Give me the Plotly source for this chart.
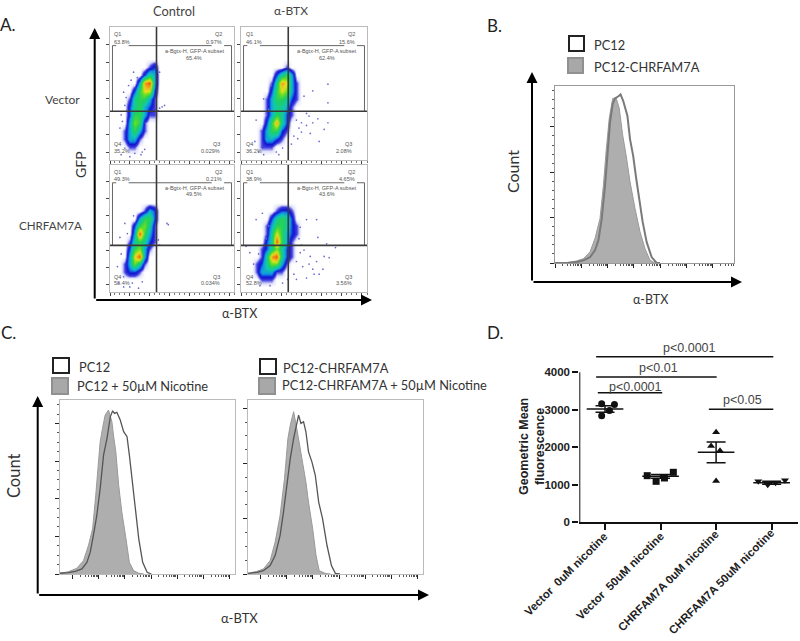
import numpy as np
import plotly.graph_objects as go

W, H = 800, 641
FONT = "Lato, 'Open Sans', sans-serif"
ARIAL = "Liberation Sans, Arial, sans-serif"

# --- panel A: density (0 empty .. 10 red) ---
grid_x = [8, 12, 16, 20, 24, 28, 32, 36, 40, 44, 48, 52]
grid_y = [4, 10, 16, 22, 28, 34, 40, 46, 52, 58, 64, 70, 76]

a1_z = [
    [0, 0, 0, 0, 0, 0, 0, 0, 0, 0, 0, 0],
    [0, 0, 1, 1, 0, 0, 0, 0, 0, 0, 0, 0],
    [0, 1, 3, 3, 1, 0, 0, 0, 0, 0, 0, 0],
    [0, 1, 3, 5, 3, 1, 0, 0, 0, 0, 0, 0],
    [0, 0, 3, 6, 5, 1, 0, 0, 0, 0, 0, 0],
    [0, 0, 2, 5, 5, 3, 1, 1, 0, 0, 0, 0],
    [0, 0, 2, 4, 5, 3, 2, 1, 0, 0, 0, 0],
    [0, 0, 1, 4, 5, 5, 3, 1, 0, 0, 0, 0],
    [0, 0, 0, 2, 5, 7, 7, 2, 0, 0, 0, 0],
    [0, 0, 0, 0, 3, 8, 9, 3, 0, 0, 0, 0],
    [0, 0, 0, 0, 0, 2, 4, 3, 0, 0, 0, 0],
    [0, 0, 0, 0, 0, 0, 1, 2, 0, 0, 0, 0],
    [0, 0, 0, 0, 0, 0, 0, 0, 0, 0, 0, 0],
]
a2_z = [
    [0, 0, 0, 0, 0, 0, 0, 0, 0, 0, 0, 0],
    [0, 0, 1, 1, 1, 0, 0, 0, 0, 0, 0, 0],
    [0, 0, 1, 3, 3, 2, 1, 0, 0, 0, 0, 0],
    [0, 0, 1, 3, 5, 5, 2, 1, 0, 0, 0, 0],
    [0, 0, 0, 2, 5, 8, 4, 2, 0, 0, 0, 0],
    [0, 0, 0, 1, 3, 5, 4, 2, 1, 0, 0, 0],
    [0, 0, 0, 1, 3, 4, 4, 3, 1, 0, 0, 0],
    [0, 0, 0, 1, 3, 5, 5, 4, 2, 1, 0, 0],
    [0, 0, 0, 0, 2, 5, 7, 6, 3, 1, 0, 0],
    [0, 0, 0, 0, 1, 4, 8, 7, 3, 1, 0, 0],
    [0, 0, 0, 0, 0, 2, 4, 5, 3, 0, 0, 0],
    [0, 0, 0, 0, 0, 0, 0, 1, 0, 0, 0, 0],
    [0, 0, 0, 0, 0, 0, 0, 0, 0, 0, 0, 0],
]
a3_z = [
    [0, 0, 0, 0, 0, 0, 0, 0, 0, 0, 0, 0],
    [0, 0, 0, 0, 0, 0, 0, 0, 0, 0, 0, 0],
    [0, 1, 2, 2, 1, 0, 0, 0, 0, 0, 0, 0],
    [0, 1, 3, 6, 4, 1, 0, 0, 0, 0, 0, 0],
    [0, 0, 3, 7, 9, 3, 0, 0, 0, 0, 0, 0],
    [0, 0, 2, 5, 6, 3, 1, 0, 0, 0, 0, 0],
    [0, 0, 1, 4, 5, 4, 2, 1, 0, 0, 0, 0],
    [0, 0, 0, 3, 9, 5, 3, 1, 0, 0, 0, 0],
    [0, 0, 0, 2, 5, 6, 4, 1, 0, 0, 0, 0],
    [0, 0, 0, 0, 3, 5, 5, 2, 0, 0, 0, 0],
    [0, 0, 0, 0, 0, 1, 3, 2, 0, 0, 0, 0],
    [0, 0, 0, 0, 0, 0, 0, 0, 0, 0, 0, 0],
    [0, 0, 0, 0, 0, 0, 0, 0, 0, 0, 0, 0],
]
a4_z = [
    [0, 0, 0, 0, 0, 0, 0, 0, 0, 0, 0, 0],
    [0, 0, 1, 1, 1, 0, 0, 0, 0, 0, 0, 0],
    [0, 1, 3, 3, 3, 1, 1, 0, 0, 0, 0, 0],
    [0, 1, 2, 4, 6, 6, 3, 1, 0, 0, 0, 0],
    [0, 0, 1, 4, 8, 9, 4, 2, 1, 0, 0, 0],
    [0, 0, 1, 2, 4, 6, 4, 2, 1, 0, 0, 0],
    [0, 0, 0, 2, 4, 9, 5, 3, 1, 0, 0, 0],
    [0, 0, 0, 1, 4, 7, 5, 3, 2, 1, 0, 0],
    [0, 0, 0, 1, 3, 5, 5, 4, 2, 1, 0, 0],
    [0, 0, 0, 0, 2, 4, 5, 4, 2, 0, 0, 0],
    [0, 0, 0, 0, 0, 1, 2, 2, 1, 0, 0, 0],
    [0, 0, 0, 0, 0, 0, 0, 0, 0, 0, 0, 0],
    [0, 0, 0, 0, 0, 0, 0, 0, 0, 0, 0, 0],
]

# stray events outside the dense cloud
a1_out_x = [9, 20, 16, 25, 11, 12, 15, 8, 9, 40, 42, 39, 40, 13, 17, 10, 22, 19, 14, 26, 44, 28, 12]
a1_out_y = [4, 5, 2.5, 4, 51, 41, 56, 24, 34, 39, 40, 37, 66, 47, 60, 29, 62, 66, 38, 6, 41, 8, 9]
a2_out_x = [48, 52, 57, 61, 48, 45, 66, 69, 57, 69, 69, 55, 14, 18, 12, 52, 30, 62, 22, 18, 24, 50, 44, 46, 54,
            40, 42, 16, 20, 33, 28, 11]
a2_out_y = [28, 26, 28, 31, 21, 16, 23, 28, 52, 57, 43, 20, 6, 4, 30, 35, 4, 14, 38, 46, 56, 48, 30, 24, 33,
            12, 18, 22, 35, 9, 6, 14]
a3_out_x = [47, 46, 7, 11, 23, 39, 8, 12, 16, 9, 14, 19, 11, 26, 40, 6, 18]
a3_out_y = [53, 54, 7, 4, 3, 41, 43, 54, 4, 30, 46, 60, 12, 8, 37, 20, 7]
a4_out_x = [47, 52, 60, 61, 55, 60, 65, 70, 75, 57, 49, 44, 4, 7, 12, 17, 23, 15, 47, 62, 68, 50, 54, 46, 58, 42,
            44, 20, 22, 14, 10, 33, 37, 52, 48, 66]
a4_out_y = [31, 57, 57, 43, 28, 24, 18, 27, 35, 18, 20, 24, 36, 31, 57, 62, 5, 5, 51, 14, 38, 33, 22, 42, 14, 14,
            10, 42, 52, 30, 22, 7, 10, 11, 37, 28]

# Q1, Q2, subset, Q4, Q3 percentages
a1_pct = ["63.8%", "0.97%", "65.4%", "35.2%", "0.029%"]
a2_pct = ["46.1%", "15.6%", "62.4%", "36.2%", "2.08%"]
a3_pct = ["49.3%", "0.21%", "49.5%", "50.4%", "0.034%"]
a4_pct = ["38.9%", "4.65%", "43.6%", "52.8%", "3.56%"]

# quadrant and gate lines, axis units
quad_x = [37.5, 37.5, None, 0, 100]
quad_y = [0, 100, None, 36.7, 36.7]
gate_x = [2, 2, None, 2, 5, None, 15, 82, None, 92, 98, 98]
gate_y = [36.7, 86, None, 86, 86, None, 86, 86, None, 86, 86, 36.7]

# --- panel B histograms ---
b_open_x = [0, 0.44, 0.82, 1.08, 1.33, 1.52, 1.65, 1.77, 1.90, 1.99, 2.09, 2.19, 2.28, 2.41, 2.49, 2.59,
            2.75, 2.85, 2.97, 3.08, 3.20, 3.33, 3.48, 3.67, 3.86, 3.99]
b_open_y = [0, 0, 0.4, 1.2, 2.6, 5.6, 10, 19, 34, 49, 62, 70, 72.5, 73.5, 74.3, 71.5,
            64.9, 54.6, 47.2, 37.6, 27.3, 18.1, 9.3, 2.6, 0, 0]
b_fill_x = [0, 0.44, 0.82, 1.08, 1.33, 1.52, 1.71, 1.84, 1.94, 2.06, 2.19, 2.32, 2.44, 2.57, 2.70, 2.85,
            3.04, 3.23, 3.42, 3.61, 3.80]
b_fill_y = [0, 0.1, 0.9, 1.9, 4.9, 10.8, 19.6, 34.4, 49, 63.7, 72.5, 72.8, 68.2, 56.4, 47.6, 35.8,
            24, 13.7, 6.3, 1.2, 0]

# --- panel C histograms ---
c1_open_x = [-0.49, -0.17, 0.09, 0.35, 0.54, 0.67, 0.79, 0.92, 1.05, 1.18, 1.31, 1.44, 1.53, 1.60, 1.69,
             1.82, 1.95, 2.08, 2.17, 2.29, 2.40, 2.53, 2.68, 2.85, 3.01]
c1_open_y = [0.4, 0.7, 1.4, 2.7, 6.2, 11.6, 20.5, 31, 45.4, 63.2, 72, 83.7, 86.8, 85.4, 86,
             81.9, 75.7, 73, 63.2, 49, 34.7, 18.7, 6.2, 0.9, 0]
c1_fill_x = [-0.49, -0.17, 0.15, 0.41, 0.60, 0.76, 0.88, 0.99, 1.05, 1.14, 1.24, 1.37, 1.50, 1.56, 1.65,
             1.76, 1.88, 2.04, 2.17, 2.33, 2.53, 2.72]
c1_fill_y = [0.4, 1.2, 3, 7.1, 15.1, 24, 41.8, 59.6, 70.3, 77.4, 84.5, 87.2, 81, 73.9, 65,
             47.2, 33, 18.7, 6.2, 1.8, 0.4, 0]
c2_open_x = [-0.49, -0.15, 0.10, 0.36, 0.55, 0.74, 0.87, 1, 1.13, 1.26, 1.35, 1.45, 1.54, 1.64, 1.73,
             1.83, 1.96, 2.09, 2.22, 2.37, 2.54, 2.71, 2.86, 3.03]
c2_open_y = [0.6, 1.5, 3, 7.6, 16.7, 34.8, 56, 80.3, 104.5, 122.7, 131.8, 143.9, 136.4, 137.9, 128.8,
             110.6, 101.5, 89.4, 65.1, 50, 25.8, 7.6, 0.6, 0]
c2_fill_x = [-0.49, -0.15, 0.10, 0.36, 0.55, 0.74, 0.91, 1.04, 1.13, 1.26, 1.38, 1.47, 1.6, 1.73, 1.83,
             1.99, 2.12, 2.24, 2.47, 2.67]
c2_fill_y = [0.6, 2.4, 4.5, 12.1, 28.8, 53, 86.4, 122.7, 134.8, 147, 131.8, 119.7, 98.5, 83.3, 65.1,
             40.9, 16.7, 3, 0.6, 0]

# --- panel D ---
d_labels = ["Vector\u00a0 0uM nicotine", "Vector\u00a0 50uM nicotine", "CHRFAM7A 0uM nicotine", "CHRFAM7A 50uM nicotine"]
d_offsets = [[-0.06, 0.17, 0.08, -0.06], [-0.24, 0.23, -0.08, 0.07], [0, -0.09, 0.07, 0], [-0.24, 0.24, -0.07, 0.07]]
d_values = [[3160, 3140, 2980, 2840], [1238, 1328, 1087, 1176], [2396, 2031, 1907, 1096], [1087, 1114, 998, 1051]]
d_means = [3020, 1220, 1862, 1051]
d_sems = [85, 50, 276, 40]
d_symbols = ["circle", "square", "triangle-up", "triangle-down"]
brackets = [("p<0.0001", -0.16, 3.03, 4417, 1.53, 4640),
            ("p<0.01", -0.16, 2.01, 3874, 0.97, 4107),
            ("p<0.0001", -0.13, 1.03, 3455, 0.54, 3615),
            ("p<0.05", 1.87, 3.03, 3011, 2.47, 3260)]

density_scale = [[0, "#ffffff"], [0.05, "#e0e0fa"], [0.1, "#4040e0"], [0.17, "#1010d0"], [0.25, "#1090e8"],
                 [0.35, "#10c8b0"], [0.48, "#20d060"], [0.6, "#70e020"], [0.7, "#e8e020"], [0.82, "#f09018"],
                 [1, "#e01010"]]

fig = go.Figure()
annotations = []
shapes = []


def px(x):
    return x / W


def py(y):
    return 1 - y / H


def text(s, x, y, size=15, anchor="center", angle=0, color="#222222", family=FONT):
    annotations.append(dict(text=s, x=px(x), y=py(y), xref="paper", yref="paper", showarrow=False, xanchor=anchor,
                            yanchor="middle", textangle=angle, font=dict(size=size, color=color, family=family)))


def arrow(x0, y0, x1, y1):
    # ax, ay are pixel offsets from the arrow head back to its tail
    annotations.append(dict(text="", x=px(x1), y=py(y1), ax=x0 - x1, ay=y0 - y1, xref="paper", yref="paper",
                            showarrow=True, arrowhead=2, arrowsize=1.1, arrowwidth=2, arrowcolor="#000000"))


def box(x0, y0, x1, y1, fill, line, width=2):
    shapes.append(dict(type="rect", xref="paper", yref="paper", x0=px(x0), x1=px(x1), y0=py(y0), y1=py(y1),
                       fillcolor=fill, line=dict(color=line, width=width)))


def set_axes(i, left, top, right, bottom, xrange, yrange, xopts, yopts):
    fig.update_layout({
        f"xaxis{i}": dict(domain=[px(left), px(right)], range=xrange, anchor=f"y{i}", showgrid=False, zeroline=False,
                          showticklabels=False, ticks="outside", mirror=True, showline=True, **xopts),
        f"yaxis{i}": dict(domain=[py(bottom), py(top)], range=yrange, anchor=f"x{i}", showgrid=False, zeroline=False,
                          showticklabels=False, ticks="outside", mirror=True, showline=True, **yopts),
    })


# panel A
a_panels = [
    (a1_z, a1_out_x, a1_out_y, a1_pct, (110, 27, 234, 160)),
    (a2_z, a2_out_x, a2_out_y, a2_pct, (241, 27, 367, 160)),
    (a3_z, a3_out_x, a3_out_y, a3_pct, (110, 165, 234, 292)),
    (a4_z, a4_out_x, a4_out_y, a4_pct, (241, 165, 367, 292)),
]
for n, (z, ox, oy, pct, pos) in enumerate(a_panels, start=1):
    ax = dict(xaxis=f"x{n}", yaxis=f"y{n}")
    fig.add_trace(go.Heatmap(x=grid_x, y=grid_y, z=z, zmin=0, zmax=10, zsmooth="best", colorscale=density_scale,
                             showscale=False, **ax))
    fig.add_trace(go.Scatter(x=ox, y=oy, mode="markers", marker=dict(size=1.7, color="#6a6ad0"), **ax))
    fig.add_trace(go.Scatter(x=gate_x, y=gate_y, mode="lines", line=dict(color="#666666", width=1), **ax))
    fig.add_trace(go.Scatter(x=quad_x, y=quad_y, mode="lines", line=dict(color="#3a3a3a", width=1.6), **ax))
    set_axes(n, *pos, [0, 100], [0, 100],
             dict(linecolor="#bbbbbb", linewidth=1, tickcolor="#444444", ticklen=3, tick0=0, dtick=16,
                  minor=dict(ticks="outside", ticklen=1.5, dtick=4, tickcolor="#777777")),
             dict(linecolor="#bbbbbb", linewidth=1, tickcolor="#444444", ticklen=3, tick0=6, dtick=13.5))
    small = [("Q1", 2, 94.5, "left"), (pct[0], 2, 89, "left"), ("Q2", 92, 94.5, "right"), (pct[1], 92, 89, "right"),
             ("a-Bgtx-H, GFP-A subset", 68, 82, "center"), (pct[2], 68, 77, "center"),
             ("Q4", 2, 12, "left"), (pct[3], 2, 7, "left"), ("Q3", 90, 12, "right"), (pct[4], 90, 7, "right")]
    for s, x, y, anchor in small:
        annotations.append(dict(text=s, x=x, y=y, xref=f"x{n}", yref=f"y{n}", showarrow=False, xanchor=anchor,
                                yanchor="middle", font=dict(size=5.5, color="#555555", family=ARIAL)))

text("A.", 8, 24, 17)
text("Control", 174, 11, 12.8, color="#444444")
text("α-BTX", 291, 11, 12, color="#444444")
text("Vector", 62, 100, 12, color="#444444")
text("CHRFAM7A", 50.5, 226, 11.6, color="#444444")
text("GFP", 80, 165, 14, angle=-90, color="#333333")
text("α-BTX", 239, 313, 12.5, color="#333333")
arrow(94.7, 300, 94.7, 28)
arrow(94.7, 300, 372, 300)

# histogram panels
log_minor = [d + float(np.log10(k)) for d in range(0, 7) for k in range(2, 10)]
hists = [
    (5, b_fill_x, b_fill_y, b_open_x, b_open_y, (555, 86, 734, 263), [0, 6.8], [0, 78], 20, 4, 2, "#7a7a7a", "#999999"),
    (6, c1_fill_x, c1_fill_y, c1_open_x, c1_open_y, (60, 399.5, 235, 574), [-0.49, 6.22], [0, 92.8], 20, 5, 1.3, "#555555", "#bbbbbb"),
    (7, c2_fill_x, c2_fill_y, c2_open_x, c2_open_y, (248, 399.5, 423, 574), [-0.49, 6.22], [0, 158], 50, 12.5, 1.3, "#555555", "#bbbbbb"),
]
for n, fx, fy, ox, oy, pos, xr, yr, major, minor, lw, lc, border in hists:
    ax = dict(xaxis=f"x{n}", yaxis=f"y{n}")
    fig.add_trace(go.Scatter(x=fx, y=fy, mode="lines", fill="tozeroy", fillcolor="#aeaeae",
                             line=dict(color="#9a9a9a", width=1), **ax))
    fig.add_trace(go.Scatter(x=ox, y=oy, mode="lines", line=dict(color=lc, width=lw), **ax))
    set_axes(n, *pos, xr, yr,
             dict(linecolor=border, linewidth=1, tickcolor="#222222", ticklen=4, tickwidth=1.2, tick0=0, dtick=1,
                  minor=dict(ticks="outside", ticklen=2, tickvals=log_minor, tickcolor="#555555")),
             dict(linecolor=border, linewidth=1, tickcolor="#222222", ticklen=4, tickwidth=1.2, tick0=0, dtick=major,
                  minor=dict(ticks="outside", ticklen=2, dtick=minor, tickcolor="#555555")))

# panel B furniture
text("B.", 494, 25, 17)
box(569, 36, 584, 51, "#ffffff", "#222222")
box(568, 58, 583, 73, "#a8a8a8", "#909090")
text("PC12", 592, 45, 12.8, "left", color="#333333")
text("PC12-CHRFAM7A", 592, 67, 12.8, "left", color="#333333")
text("Count", 512, 172, 16, angle=-90, color="#333333")
text("α-BTX", 650, 299, 12.5, color="#333333")
arrow(532, 282, 532, 72)
arrow(532, 282, 742, 282)

# panel C furniture
text("C.", 8, 332, 17)
box(53, 358, 69, 373, "#ffffff", "#222222")
box(52, 378, 68, 394, "#a8a8a8", "#909090")
text("PC12", 77, 367, 12.8, "left", color="#333333")
text("PC12 + 50µM Nicotine", 75, 386, 12.8, "left", color="#333333")
box(260, 359, 276, 374, "#ffffff", "#222222")
box(259, 378, 275, 394, "#a8a8a8", "#909090")
text("PC12-CHRFAM7A", 281, 368, 12.8, "left", color="#333333")
text("PC12-CHRFAM7A + 50µM Nicotine", 280, 385, 12.8, "left", color="#333333")
text("Count", 14, 476, 16.5, angle=-90, color="#333333")
text("α-BTX", 239, 618, 13, color="#333333")
arrow(37.7, 595, 37.7, 396)
arrow(37.7, 595, 429, 595)

# panel D
ax = dict(xaxis="x8", yaxis="y8")
fig.add_trace(go.Scatter(x=[-0.463, -0.463], y=[0, 4000], mode="lines", cliponaxis=False,
                         line=dict(color="#111111", width=2), **ax))
for i, (off, vals) in enumerate(zip(d_offsets, d_values)):
    fig.add_trace(go.Scatter(x=[i + o for o in off], y=vals, mode="markers", cliponaxis=False,
                             marker=dict(symbol=d_symbols[i], size=7, color="#111111"), **ax))
    fig.add_trace(go.Scatter(x=[i - 0.33, i + 0.33], y=[d_means[i], d_means[i]], mode="lines",
                             line=dict(color="#111111", width=1.5), **ax))
    fig.add_trace(go.Scatter(x=[i], y=[d_means[i]], mode="markers", marker=dict(size=1, color="#111111"),
                             error_y=dict(type="data", array=[d_sems[i]], color="#111111", thickness=1.5, width=9.5), **ax))
for label, x0, x1, y, tx, ty in brackets:
    fig.add_trace(go.Scatter(x=[x0, x1], y=[y, y], mode="lines", line=dict(color="#111111", width=1.4), **ax))
    annotations.append(dict(text=label, x=tx, y=ty, xref="x8", yref="y8", showarrow=False,
                            font=dict(size=12.5, color="#444444", family=ARIAL)))
fig.update_layout(
    xaxis8=dict(domain=[px(579.3), px(798.3)], range=[-0.463, 3.48], anchor="y8", showgrid=False, zeroline=False,
                showline=True, linecolor="#111111", linewidth=2, ticks="outside", ticklen=6, tickwidth=2,
                tickcolor="#111111", tickvals=[0, 1, 2, 3], showticklabels=False),
    yaxis8=dict(domain=[py(522), py(340)], range=[0, 4863], anchor="x8", showgrid=False, zeroline=False,
                showline=False, ticks="outside", ticklen=6, tickwidth=2, tickcolor="#111111",
                tickvals=[0, 1000, 2000, 3000, 4000], ticktext=["0", "1000", "2000", "3000", "4000"],
                tickfont=dict(size=11.5, family=ARIAL, color="#222222", weight=700)),
)
# rotated category labels sit centred under the ticks' upper-right ends, as in the source figure
for label, cx, cy in zip(d_labels, [566, 620, 668, 721], [574, 576, 581, 582]):
    text(f"<b>{label}</b>", cx, cy, 11.5, angle=-45, color="#222222", family=ARIAL)
text("D.", 495, 332, 17)
text("<b>Geometric Mean<br>fluorescence</b>", 532, 447, 12.5, angle=-90, color="#222222", family=ARIAL)

fig.update_layout(template="none", width=W, height=H, margin=dict(l=0, r=0, t=0, b=0, pad=0), showlegend=False,
                  autosize=False, paper_bgcolor="#ffffff", plot_bgcolor="#ffffff", annotations=annotations, shapes=shapes)
fig.write_html("out.html", config={"displayModeBar": False},
               post_script="document.body.style.margin='0';document.body.style.overflow='hidden';")
